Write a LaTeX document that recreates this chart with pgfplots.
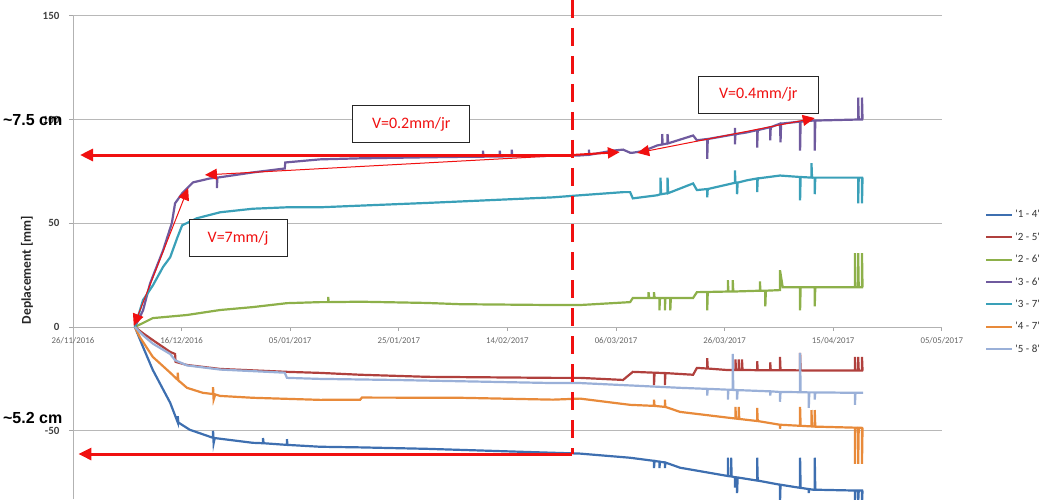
\documentclass[border=0pt]{standalone}
\usepackage{pgfplots}
\pgfplotsset{compat=1.18}
\usepackage{fontspec}
\setmainfont{Carlito}
\newfontfamily\arialfont{Liberation Sans}
\usetikzlibrary{arrows.meta}
\definecolor{cA}{HTML}{3E6FB0}
\definecolor{cB}{HTML}{B0403D}
\definecolor{cC}{HTML}{8DB04A}
\definecolor{cD}{HTML}{6F5A9E}
\definecolor{cE}{HTML}{3AA0B8}
\definecolor{cF}{HTML}{E88A3A}
\definecolor{cG}{HTML}{9AB0D8}
\definecolor{annot}{HTML}{F01010}
\begin{document}
\begin{tikzpicture}
\begin{axis}[
  x=5.43pt, y=2.075pt,
  xmin=0, xmax=160, ymin=-82.9, ymax=150,
  axis x line=middle, axis y line=left,
  axis line style={draw=black!30, line width=0.8pt, -},
  enlargelimits=false,
  clip mode=individual,
  hide obscured x ticks=false, hide obscured y ticks=false,
  xtick={0,20,...,160},
  xticklabels={26/11/2016,16/12/2016,05/01/2017,25/01/2017,14/02/2017,06/03/2017,26/03/2017,15/04/2017,05/05/2017},
  ytick={-50,0,50,100,150},
  ymajorgrids, grid style={black!28, line width=0.8pt},
  tick style={black!35, line width=0.8pt},
  major tick length=4pt,
  tick align=outside,
  xticklabel style={font=\fontsize{8.8}{9}\selectfont, text=black!60, yshift=-3pt},
  yticklabel style={font=\bfseries\fontsize{11}{11}\selectfont, text=black!75, xshift=-6pt},
  /pgf/number format/assume math mode=true,
  legend style={at={(1.05,0.602)}, anchor=north west, draw=none, fill=none,
    font=\fontsize{11}{12}\selectfont, text=black!80, row sep=9.5pt, inner sep=0pt},
  legend cell align=left,
  legend image code/.code={\draw[#1, line width=2pt] (0pt,0pt) -- (26pt,0pt);},
  every axis plot/.append style={line width=2.2pt, mark=none},
]
% '1 - 4'
\addplot[cA] coordinates {(11.4,0) (12.9,-9.6) (14.7,-20.7) (17.9,-36.5) (19.3,-46) (19.3,-43) (19.4,-46) (21.5,-49.5) (25.8,-53.4) (25.8,-50) (25.9,-56) (26.1,-53.5) (33.1,-55.8) (35,-56) (35,-53.5) (35.1,-56) (39.4,-56.8) (39.4,-54) (39.5,-56.8) (45.5,-57.7) (52.9,-58) (65.2,-58.7) (88.4,-60.6) (93.4,-61) (102.6,-63) (107,-64.5) (107,-68) (107.1,-64.5) (108,-64.9) (108,-68) (108.1,-64.9) (109,-65.3) (109,-68) (109.1,-65.3) (111.8,-67.8) (120.6,-71.8) (120.6,-63) (120.7,-71.8) (121.2,-72) (121.2,-63) (121.3,-72) (121.9,-72.4) (121.9,-77.4) (122,-72.4) (122.3,-72.5) (122.3,-80) (122.4,-72.5) (126,-74) (126,-63) (126.1,-74) (130.2,-76) (130.2,-85) (130.3,-76) (133.9,-77.5) (133.9,-63) (134,-77.5) (135.5,-78.1) (135.5,-80) (135.6,-78.1) (136.3,-78.4) (136.6,-78.4) (136.6,-63) (136.7,-78.4) (144,-78.8) (144,-85) (144.1,-78.8) (144.6,-78.8) (144.6,-85) (144.7,-78.8) (145.3,-78.8) (145.3,-85) (145.4,-78.8) (145.5,-78.8)};
\addlegendentry{\textquotesingle 1 - 4\textquotesingle}
% '2 - 5'
\addplot[cB] coordinates {(11.4,0) (12.9,-3) (14.7,-6.3) (17.9,-12) (18.8,-13) (18.9,-16.8) (21.0,-18.3) (27.1,-20.2) (39.4,-21.6) (45.5,-22.1) (52.9,-23) (65.2,-24) (88.4,-24.5) (93.4,-24.5) (101.3,-25.5) (103.1,-21.6) (107,-22) (107,-28) (107.1,-22) (109,-22.2) (109,-28) (109.1,-22.2) (114.2,-23) (114.9,-19.7) (116.8,-20) (116.8,-15) (116.9,-20) (120.4,-20.7) (122,-20.7) (122,-15.6) (122.1,-20.7) (122.6,-20.7) (122.6,-15.6) (122.7,-20.7) (123.2,-20.7) (123.2,-15.6) (123.3,-20.7) (126,-20.8) (126,-16.5) (126.1,-20.8) (128.4,-20.8) (128.4,-17) (128.5,-20.8) (130.2,-20.8) (130.2,-14.4) (130.3,-20.8) (133.9,-20.9) (133.9,-12.5) (134,-20.9) (144,-21) (144,-14.4) (144.1,-21) (144.6,-21) (144.6,-14.4) (144.7,-21) (145.3,-21) (145.3,-14.4) (145.4,-21) (145.5,-21)};
\addlegendentry{\textquotesingle 2 - 5\textquotesingle}
% '2 - 6'
\addplot[cC] coordinates {(11.4,0) (14.7,4.3) (21.0,5.8) (27.1,8.2) (33.1,9.6) (39.4,11.5) (45.5,12) (47,12) (47,14.5) (47.1,12) (52.9,12.2) (65.2,11.6) (71.3,11) (88.4,10.6) (93.4,10.6) (102.6,12) (103.1,14) (106,14) (106,16.8) (106.1,14) (107,14) (107,16.8) (107.1,14) (108,14) (108,8) (108.1,14) (109,14) (109,8) (109.1,14) (110,14) (110,8) (110.1,14) (114.2,14) (114.9,16.8) (116.8,16.9) (116.8,8) (116.9,16.9) (120.6,17.1) (120.6,22.6) (120.7,17.1) (121.5,17.1) (121.5,22.6) (121.6,17.1) (126.5,17.5) (126.5,22) (126.6,17.5) (127.5,17.5) (127.5,10) (127.6,17.5) (130.2,17.8) (130.2,27.4) (130.7,19.2) (133.9,19.2) (133.9,8) (134,19.2) (136.6,19.2) (136.6,10) (136.7,19.2) (144,19.2) (144,35.6) (144.1,19.2) (144.6,19.2) (144.6,35.6) (144.7,19.2) (145.3,19.2) (145.3,35.6) (145.4,19.2) (145.5,19.2)};
\addlegendentry{\textquotesingle 2 - 6\textquotesingle}
% '3 - 6'
\addplot[cD] coordinates {(11.4,0) (12.9,8) (14.2,21) (16.6,37) (18.2,50) (18.8,59.6) (20.1,64.4) (22.1,69.7) (25.2,71.6) (26.5,72) (26.5,67) (26.6,72) (33.1,74.5) (39.0,76.4) (39.1,79.3) (45.5,80.8) (52.9,81.3) (65.2,81.8) (71.3,82.0) (75.5,82.1) (75.5,85) (75.6,82.1) (78.6,82.2) (78.6,85) (78.7,82.2) (80.8,82.3) (80.8,85.5) (80.9,82.3) (88.4,82.5) (93.4,82.7) (95,83) (95,85.5) (95.1,83) (99.4,85) (101.3,85.5) (102.6,84) (103.1,84) (105,84.8) (107.6,87.5) (108.5,88) (108.5,93) (108.6,88) (109.5,88.5) (109.5,93) (109.6,88.5) (114.2,92.3) (114.9,90) (116.8,90.6) (116.8,81) (116.9,90.6) (121.9,92.9) (121.9,96) (121.9,88) (122,92.9) (124.1,93.8) (126.0,94.9) (126.0,86.5) (126.1,94.9) (128.4,96.3) (128.4,90) (128.5,96.3) (130.2,98) (130.3,89) (130.4,98) (133.9,99) (133.9,85) (134,99) (136.3,99.5) (136.6,99.5) (136.6,85) (136.7,99.5) (144.6,100) (144.6,110.6) (144.7,100) (145.3,100) (145.3,110.6) (145.4,100) (145.5,100)};
\addlegendentry{\textquotesingle 3 - 6\textquotesingle}
% '3 - 7'
\addplot[cE] coordinates {(11.4,0) (12.9,13) (14.7,20) (16.6,29) (17.9,33.6) (19.2,43) (20.1,49) (22.8,52.4) (27.1,55.3) (33.1,57) (39.4,57.7) (45.5,57.7) (52.9,58.5) (65.2,59.8) (71.3,60.5) (88.4,62.5) (93.4,63.5) (101.3,65) (102.6,65) (103.1,62) (107.6,63.5) (108.2,64) (108.2,72) (108.3,64) (109.5,64.5) (109.5,72) (109.6,64.5) (114.2,69.2) (114.9,66) (116.8,66.5) (116.8,62.5) (116.9,66.5) (121.9,69.5) (121.9,75.5) (122,69.5) (122.3,69.6) (122.3,64) (122.4,69.6) (124.1,70.7) (126,71.6) (126,65) (126.1,71.6) (130.2,73) (133.9,72.3) (133.9,61) (134,72.3) (136,72) (136,79) (136.1,72) (136.6,72) (136.6,64) (136.7,72) (144.6,72) (144.6,59.6) (144.7,72) (145.3,72) (145.3,59.6) (145.4,72) (145.5,72)};
\addlegendentry{\textquotesingle 3 - 7\textquotesingle}
% '4 - 7'
\addplot[cF] coordinates {(11.4,0) (12.3,-4.8) (14.7,-14.4) (17.9,-22) (19.3,-25.5) (19.3,-22) (19.4,-25.7) (21.0,-29.3) (23.9,-31.7) (25.8,-32.3) (25.8,-29) (25.9,-35) (26.2,-32.5) (27.1,-33.2) (33.1,-34.1) (45.5,-35.1) (52.9,-35) (53.2,-34) (71.3,-34.1) (88.4,-35) (93.4,-34.5) (102.6,-37.5) (107,-38) (107,-35) (107.1,-38) (109,-38.5) (109,-35) (109.1,-38.5) (111.8,-40.9) (121.0,-43.8) (122,-44.1) (122,-38.5) (122.1,-44.1) (122.6,-44.3) (122.6,-38.5) (122.7,-44.3) (126,-45.3) (126,-39) (126.1,-45.3) (130.2,-47.1) (130.2,-49) (130.3,-47.1) (133.9,-47.6) (133.9,-38.5) (134,-47.6) (136.0,-47.9) (136,-40) (136.1,-47.9) (136.6,-48) (136.6,-40) (136.7,-48) (144,-48.5) (144,-66) (144.1,-48.5) (144.6,-48.5) (144.6,-66) (144.7,-48.5) (145.3,-48.6) (145.3,-66) (145.4,-48.6) (145.5,-48.6)};
\addlegendentry{\textquotesingle 4 - 7\textquotesingle}
% '5 - 8'
\addplot[cG] coordinates {(11.4,0) (12.9,-4) (14.7,-8) (17.9,-13) (18.8,-16) (21.0,-18.5) (27.1,-20.5) (39.0,-22) (39.4,-24.5) (45.5,-25) (58.9,-25.5) (88.4,-27) (93.4,-27) (111.8,-29.3) (116.8,-29.8) (116.8,-33) (116.9,-29.8) (120.6,-30.2) (120.6,-35) (120.7,-30.2) (121.5,-30.3) (121.5,-13) (121.6,-30.3) (122.3,-30.4) (122.3,-35) (122.4,-30.4) (128.4,-31) (128.4,-33) (128.5,-31) (130.2,-31.3) (130.2,-36) (130.3,-31.3) (133.9,-31.4) (133.9,-12.5) (134,-31.4) (135.5,-31.5) (135.5,-39) (135.6,-31.5) (136.6,-31.5) (136.6,-35) (136.7,-31.5) (144,-31.7) (144,-37.5) (144.1,-31.7) (145.5,-31.7)};
\addlegendentry{\textquotesingle 5 - 8\textquotesingle}

% annotations
\draw[annot, line width=3pt, dash pattern=on 18pt off 10pt] (axis cs:91.9,157.6) -- (axis cs:91.9,-61.2);
\draw[annot, line width=3pt, -{Triangle[length=13pt,width=12pt]}] (axis cs:91.9,82.9) -- (axis cs:1.3,82.9);
\draw[annot, line width=3pt, -{Triangle[length=13pt,width=12pt]}] (axis cs:91.9,-61.2) -- (axis cs:1.0,-61.2);
\draw[annot, line width=1pt, -{Triangle[length=12pt,width=11pt]}] (axis cs:91.9,82.9) -- (axis cs:24.3,73.3);
\draw[annot, line width=2pt, -{Triangle[length=12pt,width=11pt]}] (axis cs:91.9,82.9) -- (axis cs:100.7,84.3);
\draw[annot, line width=1pt, {Triangle[length=12pt,width=11pt]}-{Triangle[length=12pt,width=11pt]}] (axis cs:103.9,83.9) -- (axis cs:136.6,100.7);
\draw[annot, line width=1pt, {Triangle[length=12pt,width=11pt]}-{Triangle[length=12pt,width=11pt]}] (axis cs:11.2,0.5) -- (axis cs:21.2,67);

\node[draw=black!85, line width=1pt, fill=white, text=annot, minimum width=117pt, minimum height=37pt, font=\fontsize{16}{16}\selectfont] at (axis cs:62.3,97.6) {V=0.2mm/jr};
\node[draw=black!85, line width=1pt, fill=white, text=annot, minimum width=120pt, minimum height=37pt, font=\fontsize{16}{16}\selectfont] at (axis cs:126.2,112.0) {V=0.4mm/jr};
\node[draw=black!85, line width=1pt, fill=white, text=annot, minimum width=98pt, minimum height=37pt, font=\fontsize{16}{16}\selectfont] at (axis cs:30.4,42.7) {V=7mm/j};

\node[anchor=west, inner sep=0pt, font=\arialfont\bfseries\fontsize{16}{16}\selectfont] at (axis cs:-12.9,99.8) {\textasciitilde7.5 cm};
\node[anchor=west, inner sep=0pt, font=\arialfont\bfseries\fontsize{16}{16}\selectfont] at (axis cs:-12.9,-43.9) {\textasciitilde5.2 cm};
\node[rotate=90, inner sep=0pt, font=\bfseries\fontsize{13.5}{13.5}\selectfont, text=black!85] at (axis cs:-8.47,27.5) {Deplacement [mm]};

\coordinate (BL) at (axis cs:-13.44,-82.9);
\coordinate (TR) at (axis cs:179.74,157.6);
\end{axis}
\pgfresetboundingbox
\path[use as bounding box] (BL) rectangle (TR);
\end{tikzpicture}
\end{document}
